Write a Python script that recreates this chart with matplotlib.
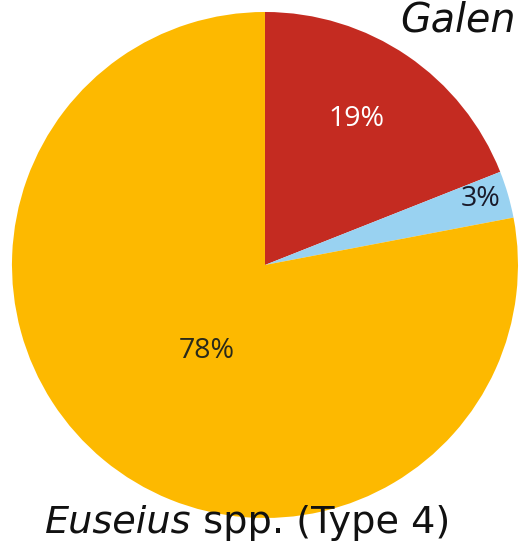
import matplotlib.pyplot as plt
import numpy as np

# Shares of the pie (clockwise from 12 o'clock)
labels = ["19%", "3%", "78%"]
values = [19, 3, 78]
colors = ["#C42B21", "#99D2F1", "#FDB900"]
label_colors = ["white", "#1a1a2a", "#2a2a1a"]
label_r = [0.68, 0.89, 0.41]
label_ang = [58.0, 17.0, -124.0]  # nudged label directions, degrees

top_title = "Galen"
genus = "Euseius"
rest = " spp. (Type 4)"

fig = plt.figure(figsize=(5.23, 5.55), dpi=100)
ax = fig.add_axes([0.0229, 0.0667, 0.9675, 0.9117])

wedges, _ = ax.pie(values, colors=colors, startangle=90, counterclock=False,
                   radius=1.0, wedgeprops=dict(linewidth=0))

for w, lab, c, r, a in zip(wedges, labels, label_colors, label_r, label_ang):
    ang = np.deg2rad(a)
    ax.text(r * np.cos(ang), r * np.sin(ang), lab, ha="center", va="center",
            fontsize=20.5, color=c, family="Open Sans")

ax.set_xlim(-1, 1)
ax.set_ylim(-1, 1)
ax.set_aspect("equal")
ax.axis("off")

fs = 27.5
fig.text(0.765, 0.944, top_title, fontsize=fs + 1, style="italic", family="DejaVu Sans",
         ha="left", va="baseline", color="#111111")

# bottom caption: italic genus + regular rest, placed side by side
t1 = fig.text(0.086, 0.040, genus, fontsize=fs, style="italic", family="DejaVu Sans",
              ha="left", va="baseline", color="#111111")
fig.canvas.draw()
bb = t1.get_window_extent()
x2 = bb.x1 / fig.bbox.width
fig.text(x2, 0.040, rest, fontsize=fs, family="DejaVu Sans",
         ha="left", va="baseline", color="#111111")

fig.savefig("out.png", dpi=100)
